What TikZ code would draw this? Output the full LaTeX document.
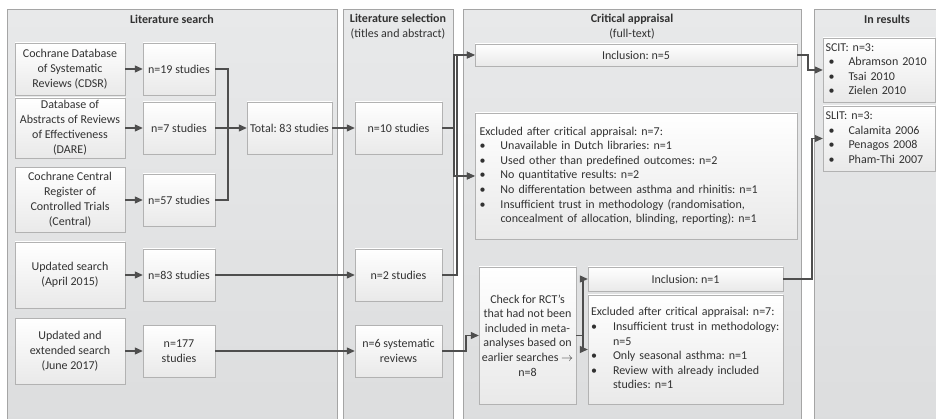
\documentclass[tikz,border=0pt]{standalone}
\usepackage{fontspec}
\setmainfont{Carlito}
\usepackage{tikz}
\usetikzlibrary{arrows.meta, positioning}
\definecolor{panelA}{RGB}{232,233,234}
\definecolor{panelB}{RGB}{220,221,222}
\definecolor{panelline}{RGB}{165,165,165}
\definecolor{boxline}{RGB}{178,178,178}
\definecolor{boxbot}{RGB}{233,233,233}
\definecolor{wire}{RGB}{78,78,78}
\definecolor{ink}{RGB}{50,50,50}
\tikzstyle{panel} = [rectangle, draw=panelline, top color=panelA, bottom color=panelB, anchor=north west, inner sep=0pt]
\tikzstyle{heading} = [align=center, inner sep=0pt, text=ink, font=\fontsize{12}{15}\selectfont]
\tikzstyle{card} = [rectangle, draw=boxline, top color=white, bottom color=boxbot, align=center, inner sep=2pt, text=ink, font=\fontsize{12}{15}\selectfont]
\tikzstyle{src} = [card, minimum width=110pt]
\tikzstyle{nbox} = [card, minimum width=72pt, minimum height=52pt]
\tikzstyle{listbox} = [card, align=left, font=\fontsize{12}{14.6}\selectfont]
\tikzstyle{flow} = [draw=wire, line width=1.1pt, -{Triangle[length=8pt, width=7pt]}]
\tikzstyle{wire2} = [draw=wire, line width=1.1pt]
\newcommand{\bul}{\textbullet}
\frenchspacing

\begin{document}
\begin{tikzpicture}[x=1pt, y=-1pt]
            \useasboundingbox (0,0) rectangle (936,419);

            % Panels
            \node (search) [panel, minimum width=330pt, minimum height=425pt] at (7,9) {};
            \node (select) [panel, minimum width=110pt, minimum height=425pt] at (343,9) {};
            \node (apprais) [panel, minimum width=338pt, minimum height=425pt] at (463,9) {};
            \node (results) [panel, minimum width=146pt, minimum height=425pt] at (814,9) {};

            \node (t1) [heading] at (172,19) {\textbf{Literature search}};
            \node (t2) [heading] at (398,26.5) {\textbf{Literature selection}\\(titles and abstract)};
            \node (t3) [heading] at (632,26.5) {\textbf{Critical appraisal}\\(full-text)};
            \node (t4) [heading] at (887,19) {\textbf{In results}};

            % Place nodes
            \node (cdsr) [src, minimum height=52pt] at (70,69) {Cochrane Database\\of Systematic\\Reviews (CDSR)};
            \node (dare) [src, minimum height=60pt] at (70,128) {Database of\\Abstracts of Reviews\\of Effectiveness\\(DARE)};
            \node (central) [src, minimum height=65pt] at (70,200) {Cochrane Central\\Register of\\Controlled Trials\\(Central)};
            \node (upd15) [src, minimum height=66pt] at (70,275) {Updated search\\(April 2015)};
            \node (upd17) [src, minimum height=66pt] at (70,351) {Updated and\\extended search\\(June 2017)};

            \node (n19) [nbox, right of=cdsr, node distance=109pt] {n=19 studies};
            \node (n7) [nbox, right of=dare, node distance=109pt] {n=7 studies};
            \node (n57) [nbox, right of=central, node distance=109pt] {n=57 studies};
            \node (n83) [nbox, right of=upd15, node distance=109pt] {n=83 studies};
            \node (n177) [nbox, right of=upd17, node distance=109pt] {n=177\\studies};

            \node (total) [nbox, minimum width=85pt, right of=n7, node distance=110.5pt] {Total: 83 studies};
            \node (n10) [nbox, minimum width=87pt, right of=total, node distance=109pt] {n=10 studies};
            \node (n2) [nbox, minimum width=87pt, right of=n83, node distance=219.5pt] {n=2 studies};
            \node (n6) [nbox, minimum width=87pt, below of=n2, node distance=76pt] {n=6 systematic\\reviews};

            \node (inc5) [card, minimum width=322pt, minimum height=22pt] at (636,55) {Inclusion: n=5};
            \node (exc1) [listbox, minimum height=126pt, text width=313pt, inner xsep=4.5pt] at (636,176) {%
                \begin{tabular}{@{}p{21pt}@{}l@{}}
                \multicolumn{2}{@{}l@{}}{Excluded after critical appraisal: n=7:}\\
                \bul & Unavailable in Dutch libraries: n=1\\
                \bul & Used other than predefined outcomes: n=2\\
                \bul & No quantitative results: n=2\\
                \bul & No differentation between asthma and rhinitis: n=1\\
                \bul & Insufficient trust in methodology (randomisation,\\
                     & concealment of allocation, blinding, reporting): n=1
                \end{tabular}};

            \node (check) [card, minimum width=97pt, minimum height=137pt, font=\fontsize{12}{14.6}\selectfont] at (527.5,335.5) {Check for RCT’s\\that had not been\\included in meta-\\analyses based on\\earlier searches $\rightarrow$\\n=8};
            \node (inc1) [card, minimum width=195pt, minimum height=24pt] at (685.5,279) {Inclusion: n=1};
            \node (exc2) [listbox, minimum height=109pt, text width=189pt, inner xsep=3pt] at (685.5,349.5) {%
                \begin{tabular}{@{}p{22pt}@{}l@{}}
                \multicolumn{2}{@{}l@{}}{Excluded after critical appraisal: n=7:}\\
                \bul & Insufficient trust in methodology:\\
                     & n=5\\
                \bul & Only seasonal asthma: n=1\\
                \bul & Review with already included\\
                     & studies: n=1
                \end{tabular}};

            \node (scit) [listbox, minimum height=64pt, text width=107pt, inner xsep=2.5pt] at (879,70) {%
                \begin{tabular}{@{}p{23pt}@{}l@{}}
                \multicolumn{2}{@{}l@{}}{SCIT: n=3:}\\
                \hspace{3pt}\bul & Abramson 2010\\
                \hspace{3pt}\bul & Tsai 2010\\
                \hspace{3pt}\bul & Zielen 2010
                \end{tabular}};
            \node (slit) [listbox, minimum height=65pt, text width=107pt, inner xsep=2.5pt] at (879,138.5) {%
                \begin{tabular}{@{}p{23pt}@{}l@{}}
                \multicolumn{2}{@{}l@{}}{SLIT: n=3:}\\
                \hspace{3pt}\bul & Calamita 2006\\
                \hspace{3pt}\bul & Penagos 2008\\
                \hspace{3pt}\bul & Pham-Thi 2007
                \end{tabular}};

            \coordinate (merge) at (228,128);
            \coordinate (split10) at (454,128);
            \coordinate (split2) at (457,275);
            \coordinate (bend6) at (466,351);
            \coordinate (split8) at (583,335.5);
            \coordinate (bend5) at (808,55);
            \coordinate (bend1) at (812,279);

            % Draw edges
            \draw [flow] (cdsr) -- (n19);
            \draw [flow] (dare) -- (n7);
            \draw [flow] (central) -- (n57);
            \draw [flow] (upd15) -- (n83);
            \draw [flow] (upd17) -- (n177);
            \draw [wire2] (n19) -| (merge);
            \draw [wire2] (n57) -| (merge);
            \draw [flow] (n7) -- (total);
            \draw [flow] (total) -- (n10);
            \draw [flow] (n83) -- (n2);
            \draw [flow] (n177) -- (n6);
            \draw [flow] (n10) -- (split10) |- (inc5);
            \draw [flow] (split10) |- (exc1);
            \draw [flow] (n2) -- (split2) |- (inc5);
            \draw [flow] (split2) |- (exc1);
            \draw [flow] (n6) -- (bend6) |- (check);
            \draw [flow] (check) -- (split8) |- (inc1);
            \draw [flow] (split8) |- (exc2);
            \draw [flow] (inc5) -- (bend5) |- (scit);
            \draw [flow] (inc1) -- (bend1) |- (slit);
\end{tikzpicture}
\end{document}
